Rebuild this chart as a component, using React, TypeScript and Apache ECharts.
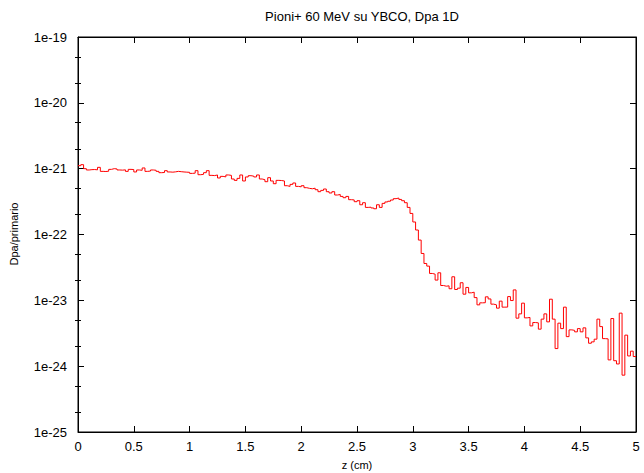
import React, { useEffect, useRef } from "react";
import * as echarts from "echarts";

const title = "Pioni+ 60 MeV su YBCO, Dpa 1D";
const xName = "z (cm)";
const yName = "Dpa/primario";
const zMax = 5;
const binWidth = 0.025;

// Dpa per primary, bins 0-49 (z 0 .. 1.25 cm)
const dpaA = [
  1.11e-21, 1.15e-21, 1.0e-21, 9.55e-22, 9.66e-22, 9.7e-22, 9.6e-22, 1.047e-21, 9.1e-22, 9.05e-22,
  9.15e-22, 9.76e-22, 1.0e-21, 9.9e-22, 9.55e-22, 9.5e-22, 9.6e-22, 9.1e-22, 9.76e-22, 9.7e-22,
  8.91e-22, 9.55e-22, 9.45e-22, 1.025e-21, 9.1e-22, 9.2e-22, 9.55e-22, 9.45e-22, 9.1e-22, 8.69e-22,
  8.75e-22, 9.32e-22, 8.91e-22, 8.85e-22, 8.95e-22, 9.1e-22, 9.0e-22, 8.91e-22, 8.85e-22, 8.8e-22,
  8.48e-22, 8.55e-22, 9.32e-22, 8.1e-22, 8.2e-22, 8.69e-22, 9.32e-22, 7.91e-22, 7.85e-22, 8.02e-22,
];
// bins 50-99 (z 1.25 .. 2.5 cm)
const dpaB = [
  7.22e-22, 7.64e-22, 7.5e-22, 8.02e-22, 7.9e-22, 6.97e-22, 6.64e-22, 7.12e-22, 8.02e-22, 6.5e-22,
  7.48e-22, 7.82e-22, 7.7e-22, 7.48e-22, 8.02e-22, 6.97e-22, 6.8e-22, 6.34e-22, 7.3e-22, 6.5e-22,
  5.91e-22, 6.64e-22, 6.6e-22, 6.5e-22, 5.51e-22, 5.38e-22, 5.77e-22, 6.06e-22, 5.38e-22, 5.3e-22,
  5.51e-22, 5.14e-22, 5.02e-22, 4.95e-22, 5.05e-22, 4.79e-22, 4.47e-22, 4.68e-22, 4.91e-22, 4.47e-22,
  4.27e-22, 4.47e-22, 3.98e-22, 4.05e-22, 3.79e-22, 3.62e-22, 3.79e-22, 3.38e-22, 3.35e-22, 3.15e-22,
];
// bins 100-149 (z 2.5 .. 3.75 cm)
const dpaC = [
  3.26e-22, 2.83e-22, 3.04e-22, 2.58e-22, 2.6e-22, 2.53e-22, 2.46e-22, 2.83e-22, 2.58e-22, 2.97e-22,
  3.12e-22, 3.2e-22, 3.34e-22, 3.5e-22, 3.58e-22, 3.41e-22, 3.26e-22, 3.04e-22, 2.58e-22, 2.09e-22,
  1.55e-22, 1.17e-22, 8.23e-23, 5.15e-23, 3.63e-23, 3.31e-23, 2.56e-23, 2.5e-23, 2.03e-23, 2.62e-23,
  1.68e-23, 1.64e-23, 1.66e-23, 1.5e-23, 2.28e-23, 1.46e-23, 1.53e-23, 1.85e-23, 1.24e-23, 1.57e-23,
  1.3e-23, 1.33e-23, 1.1e-23, 8.54e-24, 9.16e-24, 9.2e-24, 1.13e-23, 1.05e-23, 8.75e-24, 8.54e-24,
];
// bins 150-199 (z 3.75 .. 5 cm)
const dpaD = [
  7.61e-24, 9.72e-24, 7.88e-24, 7.9e-24, 1.14e-23, 9.93e-24, 1.44e-23, 5.36e-24, 6.23e-24, 9.06e-24,
  5.42e-24, 5.5e-24, 4.09e-24, 4.6e-24, 4.55e-24, 3.65e-24, 5.18e-24, 6.23e-24, 4.71e-24, 1.04e-23,
  5.18e-24, 1.85e-24, 4.5e-24, 3.72e-24, 7.88e-24, 2.81e-24, 3.56e-24, 3.5e-24, 3.32e-24, 3.72e-24,
  3.32e-24, 3.82e-24, 2.69e-24, 2.23e-24, 2.34e-24, 2.57e-24, 5.18e-24, 3.99e-24, 2.62e-24, 2.6e-24,
  1.245e-24, 5.29e-24, 1.21e-24, 1.08e-24, 6.39e-24, 7.3e-25, 2.96e-24, 1.43e-24, 1.69e-24, 1.4e-24,
];

const yMinExp = -25;
const yMaxExp = -19;

const FONT = "'Liberation Sans', Arial, Helvetica, sans-serif";

export default function App() {
  const ref = useRef<HTMLDivElement>(null);

  useEffect(() => {
    if (!ref.current) return;
    const chart = echarts.init(ref.current, null, { renderer: "svg", width: 644, height: 473 });

    const dpa = [...dpaA, ...dpaB, ...dpaC, ...dpaD];
    const lineData: [number, number][] = dpa.map((v, i) => [i * binWidth, v]);
    lineData.push([zMax, dpa[dpa.length - 1]]);

    const minorTicks: number[] = [];
    for (let d = yMinExp; d < yMaxExp; d++) {
      minorTicks.push(d + Math.log10(2), d + Math.log10(5));
    }

    const black = "#000";
    const xBase = {
      type: "value" as const,
      min: 0,
      max: zMax,
      interval: 0.5,
      splitLine: { show: false },
      axisLine: { show: true, onZero: false, lineStyle: { color: black, width: 1 } },
      axisTick: { show: true, inside: true, length: 6, lineStyle: { color: black } },
    };
    const yLogBase = {
      type: "log" as const,
      logBase: 10,
      min: Math.pow(10, yMinExp),
      max: Math.pow(10, yMaxExp),
      splitNumber: 6,
      splitLine: { show: false },
      axisLabel: { show: false },
      axisLine: { show: true, onZero: false, lineStyle: { color: black, width: 1 } },
      axisTick: { show: true, inside: true, length: 6, lineStyle: { color: black } },
    };
    const yMinor = {
      type: "value" as const,
      min: yMinExp,
      max: yMaxExp,
      interval: 1,
      splitLine: { show: false },
      axisLine: { show: false },
      axisTick: {
        show: true,
        inside: true,
        length: 3,
        customValues: minorTicks,
        lineStyle: { color: black },
      },
    };

    chart.setOption({
      animation: false,
      backgroundColor: "#fff",
      textStyle: { fontFamily: FONT },
      title: {
        text: title,
        left: 357,
        textAlign: "center",
        top: 5,
        textStyle: { fontSize: 13, fontWeight: "normal", color: black, fontFamily: FONT },
      },
      grid: {
        left: 78,
        right: 8,
        top: 37,
        bottom: 41,
        containLabel: false,
        outerBoundsMode: "none",
        show: true,
        borderColor: black,
        borderWidth: 1,
        backgroundColor: "transparent",
      },
      graphic: [
        {
          type: "text",
          x: 14,
          y: 234,
          rotation: Math.PI / 2,
          style: {
            text: yName,
            fontSize: 11,
            fontFamily: FONT,
            fill: black,
            align: "center",
            verticalAlign: "middle",
          },
        },
      ],
      xAxis: [
        {
          ...xBase,
          position: "bottom",
          name: xName,
          nameLocation: "middle",
          nameGap: 27,
          nameTextStyle: { fontSize: 11, color: black, fontFamily: FONT },
          axisLabel: {
            show: true,
            fontSize: 13,
            color: black,
            margin: 8,
            fontFamily: FONT,
            showMinLabel: true,
            showMaxLabel: true,
            formatter: (v: number) => String(v),
          },
        },
        {
          ...xBase,
          position: "top",
          axisLabel: { show: false },
        },
      ],
      yAxis: [
        { ...yLogBase, position: "left" },
        { ...yLogBase, position: "right" },
        {
          ...yMinor,
          position: "left",
          axisLabel: {
            show: true,
            fontSize: 13,
            color: black,
            margin: 11,
            fontFamily: FONT,
            showMinLabel: true,
            showMaxLabel: true,
            hideOverlap: false,
            formatter: (v: number) => "1e" + Math.round(v),
          },
        },
        { ...yMinor, position: "right", axisLabel: { show: false } },
      ],
      series: [
        {
          type: "line",
          xAxisIndex: 0,
          yAxisIndex: 0,
          data: lineData,
          step: "end",
          showSymbol: false,
          symbol: "none",
          lineStyle: { color: "#ff0000", width: 1 },
          silent: true,
        },
      ],
    });

    return () => chart.dispose();
  }, []);

  return (
    <div
      ref={ref}
      style={{ position: "fixed", left: 0, top: 0, width: 644, height: 473, background: "#fff" }}
    />
  );
}
